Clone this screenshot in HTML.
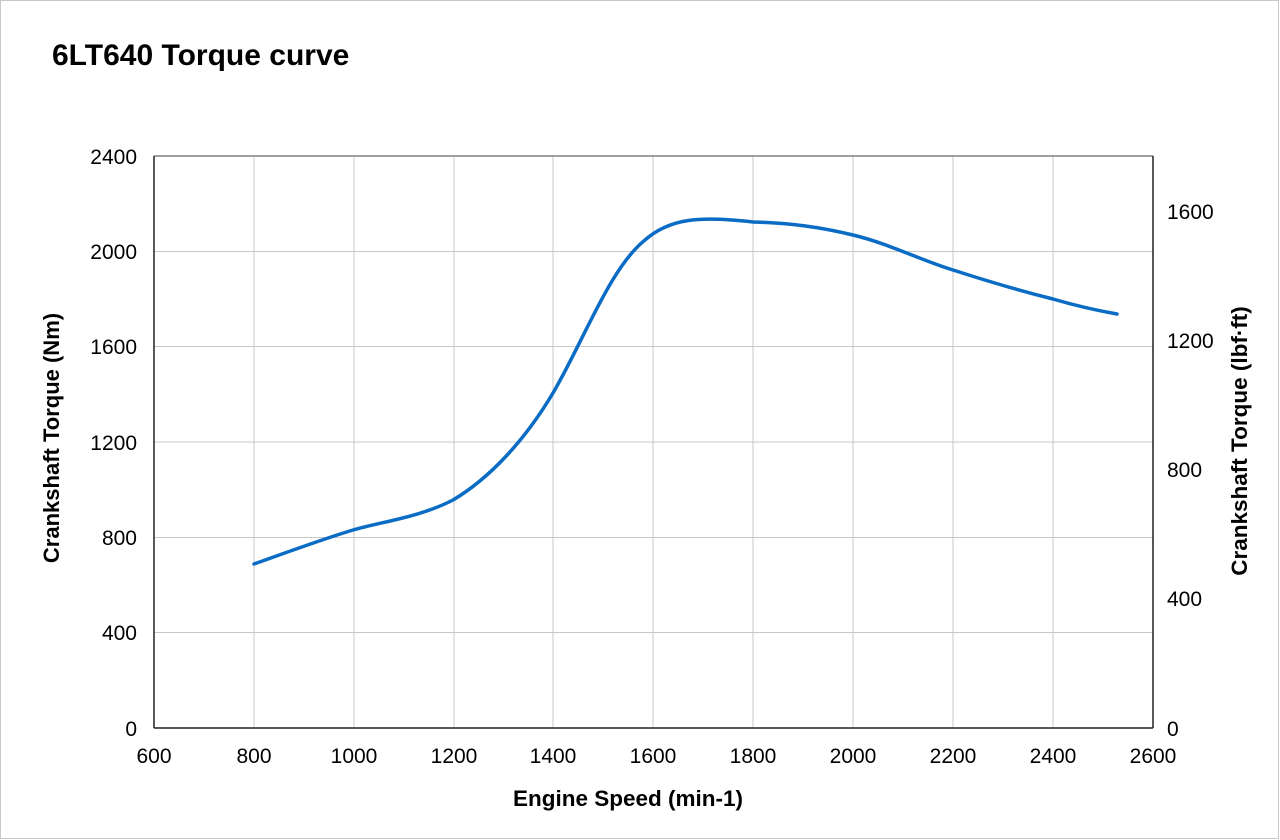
<!DOCTYPE html>
<html><head><meta charset="utf-8"><style>
html,body{margin:0;padding:0;background:#fff;}
svg{display:block;}
text{font-family:"Liberation Sans",Arial,sans-serif;fill:#000;}
</style></head><body>
<svg width="1280" height="840" viewBox="0 0 1280 840">
<rect x="0.5" y="0.5" width="1278" height="838" fill="#fff" stroke="#c8c8c8"/>
<text x="52" y="65" font-size="30" font-weight="bold">6LT640 Torque curve</text>
<g stroke="#c8c8c8" stroke-width="1">
<line x1="254" y1="156" x2="254" y2="728"/><line x1="354" y1="156" x2="354" y2="728"/>
<line x1="454" y1="156" x2="454" y2="728"/><line x1="553" y1="156" x2="553" y2="728"/>
<line x1="653" y1="156" x2="653" y2="728"/><line x1="753" y1="156" x2="753" y2="728"/>
<line x1="853" y1="156" x2="853" y2="728"/><line x1="953" y1="156" x2="953" y2="728"/>
<line x1="1053" y1="156" x2="1053" y2="728"/>
<line x1="154" y1="251.5" x2="1153" y2="251.5"/><line x1="154" y1="346.5" x2="1153" y2="346.5"/>
<line x1="154" y1="442" x2="1153" y2="442"/><line x1="154" y1="537.5" x2="1153" y2="537.5"/>
<line x1="154" y1="632.5" x2="1153" y2="632.5"/>
</g>
<line x1="154" y1="156" x2="1153" y2="156" stroke="#808080" stroke-width="1.5"/>
<line x1="154" y1="156" x2="154" y2="728" stroke="#222" stroke-width="1.5"/>
<line x1="1153" y1="156" x2="1153" y2="728" stroke="#222" stroke-width="1.5"/>
<line x1="154" y1="728" x2="1153" y2="728" stroke="#222" stroke-width="1.5"/>
<g font-size="21" text-anchor="end">
<text x="137" y="164">2400</text><text x="137" y="259">2000</text><text x="137" y="354">1600</text>
<text x="137" y="450">1200</text><text x="137" y="545">800</text><text x="137" y="640">400</text>
<text x="137" y="736">0</text>
</g>
<g font-size="21" text-anchor="start">
<text x="1167" y="219">1600</text><text x="1167" y="348">1200</text><text x="1167" y="477">800</text>
<text x="1167" y="606">400</text><text x="1167" y="736">0</text>
</g>
<g font-size="21" text-anchor="middle">
<text x="154" y="763">600</text><text x="254" y="763">800</text><text x="354" y="763">1000</text>
<text x="454" y="763">1200</text><text x="553" y="763">1400</text><text x="653" y="763">1600</text>
<text x="753" y="763">1800</text><text x="853" y="763">2000</text><text x="953" y="763">2200</text>
<text x="1053" y="763">2400</text><text x="1153" y="763">2600</text>
</g>
<text x="628" y="806" font-size="22.5" font-weight="bold" text-anchor="middle">Engine Speed (min-1)</text>
<text transform="translate(59,438) rotate(-90)" font-size="22" font-weight="bold" text-anchor="middle">Crankshaft  Torque (Nm)</text>
<text transform="translate(1247,441) rotate(-90)" font-size="22.5" font-weight="bold" text-anchor="middle">Crankshaft  Torque (lbf·ft)</text>
<path d="M254,564 C285,553 320,540 353,530 C385,521 420,517 453,500 C490,478 525,440 553,393 C585,338 610,268 645,240 C670,218 700,216 753,222 C790,223 820,227 853,235 C890,244 920,260 953,270 C990,282 1025,292 1053,299 C1080,307 1100,311 1117,314" fill="none" stroke="#0a6cc4" stroke-width="3.5" stroke-linecap="round" stroke-linejoin="round"/>
</svg>
</body></html>
